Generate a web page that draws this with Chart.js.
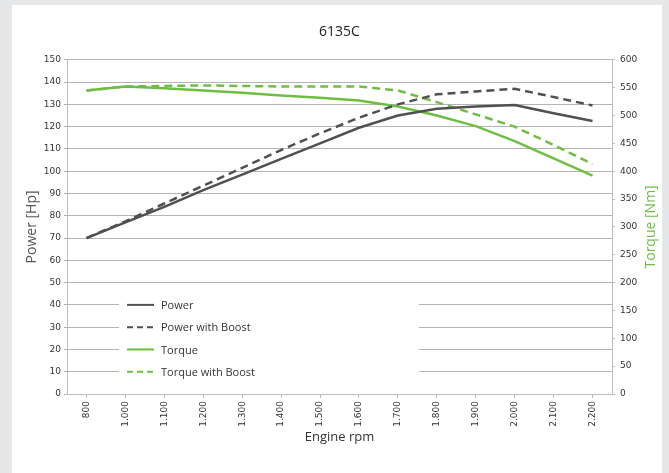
<!DOCTYPE html>
<html>
<head>
<meta charset="utf-8">
<script src="https://cdn.jsdelivr.net/npm/chart.js@4/dist/chart.umd.min.js"></script>
<style>
  html, body { margin: 0; padding: 0; background: #e6e7e9; }
  #wrap { width: 669px; height: 473px; }
</style>
</head>
<body>
<div id="wrap"><canvas id="chart" width="669" height="473"></canvas></div>
<script>
const categories = ["800", "1.000", "1.100", "1.200", "1.300", "1.400", "1.500", "1.600", "1.700", "1.800", "1.900", "2.000", "2.100", "2.200"];
const power = [70, 77, 84, 91.5, 98.5, 105.5, 112.5, 119.5, 125, 128, 129, 129.7, 126, 122.5];
const powerBoost = [70, 77.5, 85.5, 93.5, 101.5, 109.5, 117, 124, 130, 134.5, 135.8, 137, 133.3, 129.5];
const torque = [545, 552, 549, 545, 541, 536, 532, 527, 516, 500, 481, 454, 423, 392];
const torqueBoost = [545, 552, 553, 554, 553, 552, 552, 552, 545, 524, 502, 480, 447, 413];

const GREY = "#505050";
const GREEN = "#6fbe44";
const GRID = "#b4b4b4";
const TICK_FONT = { family: "DejaVu Sans", size: 9 };

// fond gris + panneau blanc
const background = {
  id: "background",
  beforeDraw(chart) {
    const ctx = chart.ctx;
    ctx.save();
    ctx.fillStyle = "#e6e7e9";
    ctx.fillRect(0, 0, chart.width, chart.height);
    ctx.fillStyle = "#ffffff";
    ctx.fillRect(12, 5, 650, chart.height - 5);
    ctx.restore();
  }
};

// légende dans la zone du graphique
const innerLegend = {
  id: "innerLegend",
  beforeDatasetsDraw(chart) {
    const ctx = chart.ctx;
    const y = chart.scales.y;
    const top = y.getPixelForValue(45);
    const bottom = y.getPixelForValue(5);
    ctx.save();
    ctx.fillStyle = "#ffffff";
    ctx.fillRect(119, top, 300, bottom - top);
    chart.data.datasets.forEach((ds, i) => {
      const py = y.getPixelForValue(40 - i * 10);
      ctx.strokeStyle = ds.borderColor;
      ctx.lineWidth = 2;
      ctx.setLineDash(ds.borderDash ? [6, 4] : []);
      ctx.beginPath();
      ctx.moveTo(127, py);
      ctx.lineTo(154, py);
      ctx.stroke();
      ctx.fillStyle = "#333333";
      ctx.font = '11px "Open Sans"';
      ctx.textBaseline = "middle";
      ctx.fillText(ds.label, 161, py + 1);
    });
    ctx.restore();
  }
};

// titre de l'axe droit, lu de bas en haut
const rightTitle = {
  id: "rightTitle",
  afterDraw(chart) {
    const ctx = chart.ctx;
    const area = chart.chartArea;
    ctx.save();
    ctx.translate(651, (area.top + area.bottom) / 2);
    ctx.rotate(-Math.PI / 2);
    ctx.fillStyle = GREEN;
    ctx.font = '14px "Open Sans"';
    ctx.textAlign = "center";
    ctx.textBaseline = "middle";
    ctx.fillText("Torque [Nm]", 0, 0);
    ctx.restore();
  }
};

new Chart(document.getElementById("chart"), {
  type: "line",
  data: {
    labels: categories,
    datasets: [
      { label: "Power", data: power, yAxisID: "y", borderColor: GREY, borderWidth: 2.5 },
      { label: "Power with Boost", data: powerBoost, yAxisID: "y", borderColor: GREY, borderWidth: 2.5, borderDash: [8, 5] },
      { label: "Torque", data: torque, yAxisID: "y1", borderColor: GREEN, borderWidth: 2.5 },
      { label: "Torque with Boost", data: torqueBoost, yAxisID: "y1", borderColor: GREEN, borderWidth: 2.5, borderDash: [8, 5] }
    ]
  },
  options: {
    responsive: false,
    animation: false,
    devicePixelRatio: 1,
    elements: { point: { radius: 0 }, line: { tension: 0, fill: false } },
    layout: { padding: 0 },
    plugins: {
      legend: { display: false },
      tooltip: { enabled: false },
      title: {
        display: true,
        text: "6135C",
        fullSize: false,
        color: "#222222",
        font: { family: "Open Sans", size: 14, weight: "normal" },
        padding: { top: 24, bottom: 19 }
      }
    },
    scales: {
      x: {
        type: "category",
        offset: true,
        afterFit(scale) { scale.height = 79; },
        border: { color: "#bdbdbd" },
        grid: { drawOnChartArea: false, drawTicks: true, tickLength: 4, color: "#bdbdbd", offset: false },
        ticks: { color: "#333333", font: TICK_FONT, minRotation: 90, maxRotation: 90, padding: 3, autoSkip: false },
        title: { display: true, text: "Engine rpm", color: "#333333", font: { family: "Open Sans", size: 13 }, padding: { top: 0, bottom: 28 } }
      },
      y: {
        position: "left",
        min: 0,
        max: 150,
        afterFit(scale) { scale.width = 67; },
        border: { color: "#bdbdbd" },
        grid: { color: GRID, tickLength: 3 },
        ticks: { stepSize: 10, color: "#333333", font: TICK_FONT, padding: 3 },
        title: { display: true, text: "Power [Hp]", color: "#555555", font: { family: "Open Sans", size: 14 }, padding: { top: 24, bottom: 0 } }
      },
      y1: {
        position: "right",
        min: 0,
        max: 600,
        afterFit(scale) { scale.width = 57; },
        border: { color: "#bdbdbd" },
        grid: { drawOnChartArea: false, tickLength: 3, color: "#bdbdbd" },
        ticks: { stepSize: 50, color: "#333333", font: TICK_FONT, padding: 5 }
      }
    }
  },
  plugins: [background, innerLegend, rightTitle]
});
</script>
</body>
</html>
